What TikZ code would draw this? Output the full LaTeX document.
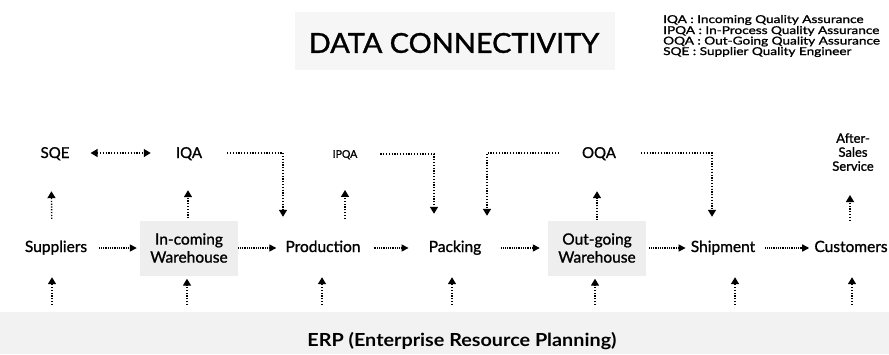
\documentclass[tikz,border=0pt]{standalone}
\usepackage{fontspec}
\setmainfont{Lato}
\newfontfamily\medfont{Lato}[FakeBold=1.2]
\usetikzlibrary{arrows.meta}
\begin{document}
\begin{tikzpicture}[x=1pt,y=-1pt,
  lbl/.style={inner sep=2pt, text height=11pt, text depth=3pt, font=\medfont\fontsize{15.5}{16}\selectfont},
  whbox/.style={inner sep=2pt, fill=gray!13, minimum width=98pt, minimum height=55pt, align=center, font=\medfont\fontsize{15.5}{18}\selectfont},
  toplbl/.style={inner sep=2pt, text height=10pt, text depth=0pt, font=\medfont\fontsize{15}{16}\selectfont},
  leg/.style={anchor=base west, inner sep=0pt, font=\medfont\fontsize{10.8}{12}\selectfont},
  harr/.style={line width=1.4pt, dash pattern=on 1pt off 0.8pt, -{Triangle[length=7pt,width=7pt]}},
  darr/.style={line width=1.4pt, dash pattern=on 1.2pt off 1.6pt, -{Triangle[length=7pt,width=8pt]}},
]
\useasboundingbox (0,0) rectangle (889,354);
% title band
\fill[gray!7] (295,12) rectangle (615,70);
\node[inner sep=0pt, font=\medfont\fontsize{27.5}{30}\selectfont] (title) at (454,43) {\scalebox{1.05}[1]{DATA CONNECTIVITY}};
% legend
\node[leg] (leg1) at (663,23) {\scalebox{1.26}[1]{IQA : Incoming Quality Assurance}};
\node[leg] (leg2) at (663,34) {\scalebox{1.26}[1]{IPQA : In-Process Quality Assurance}};
\node[leg] (leg3) at (663,44.5) {\scalebox{1.26}[1]{OQA : Out-Going Quality Assurance}};
\node[leg] (leg4) at (663,55) {\scalebox{1.26}[1]{SQE : Supplier Quality Engineer}};
% ERP band
\node[fill=gray!10, minimum width=889pt, minimum height=42pt, inner sep=0pt, anchor=north west] (erp) at (0,312) {};
\node[inner sep=0pt, font=\bfseries\fontsize{18}{20}\selectfont] (erpt) at (462,341) {\scalebox{1.1}[1]{ERP (Enterprise Resource Planning)}};
% main row
\node[lbl] (sup) at (56,248) {Suppliers};
\node[whbox] (inw) at (189,248) {In-coming\\Warehouse};
\node[lbl] (prod) at (323,248) {Production};
\node[lbl] (pack) at (455,248) {Packing};
\node[whbox] (outw) at (597,248) {Out-going\\Warehouse};
\node[lbl] (ship) at (723,248) {Shipment};
\node[lbl] (cust) at (851,248) {Customers};
% top row
\node[toplbl] (sqe) at (55,153) {SQE};
\node[toplbl] (iqa) at (189,153) {IQA};
\node[toplbl, text height=7.5pt, font=\medfont\fontsize{10.5}{10}\selectfont] (ipqa) at (345,154) {IPQA};
\node[toplbl] (oqa) at (599,153) {OQA};
\node[inner sep=2pt, anchor=south, align=center, text depth=0pt, font=\medfont\fontsize{13}{14}\selectfont] (as) at (853,173) {After-\\Sales\\Service};
% horizontal flow
\draw[harr, shorten <=10pt, shorten >=3pt] (sup) -- (inw);
\draw[harr, shorten >=7pt] (inw) -- (prod);
\draw[harr, shorten <=11pt, shorten >=18pt] (prod) -- (pack);
\draw[harr, shorten <=18pt, shorten >=8pt] (pack) -- (outw);
\draw[harr, shorten <=3pt, shorten >=3pt] (outw) -- (ship);
\draw[harr, shorten <=8pt, shorten >=3pt] (ship) -- (cust);
% up to QA
\draw[darr, shorten <=20pt, shorten >=31pt] ([xshift=-4pt]sup.north) -- ([xshift=-4pt]sqe.south);
\draw[darr, shorten <=2pt, shorten >=30pt] ([xshift=-1pt]inw.north) -- ([xshift=-1pt]iqa.south);
\draw[darr, shorten <=20pt, shorten >=30pt] (ipqa.south |- prod.north) -- (ipqa.south);
\draw[darr, shorten <=0pt, shorten >=31pt] (outw.north) -- (outw.north |- oqa.south);
\draw[darr, shorten <=18pt, shorten >=22pt] ([xshift=-1pt]cust.north) -- ([xshift=-1pt]cust.north |- as.south);
\draw[darr, {Triangle[length=7pt,width=8pt]}-{Triangle[length=7pt,width=8pt]}, shorten <=19pt, shorten >=23pt] (sqe) -- (iqa);
% elbows
\draw[darr, shorten <=23pt, shorten >=22pt] (iqa.east) -| ([xshift=-40pt]prod.north);
\draw[darr, shorten <=21pt, shorten >=25pt] (ipqa.east) -| ([xshift=-21pt]pack.north);
\draw[darr, shorten <=21pt, shorten >=23pt] (oqa.west) -| ([xshift=32pt]pack.north);
\draw[darr, shorten <=23pt, shorten >=22pt] (oqa.east) -| ([xshift=-11pt]ship.north);
% up from ERP
\draw[darr, shorten <=7pt, shorten >=20pt] ([xshift=-4pt]sup.south |- erp.north) -- ([xshift=-4pt]sup.south);
\draw[darr, shorten <=7pt, shorten >=3pt] ([xshift=-2pt]inw.south |- erp.north) -- ([xshift=-2pt]inw.south);
\draw[darr, shorten <=7pt, shorten >=20pt] ([xshift=-1pt]prod.south |- erp.north) -- ([xshift=-1pt]prod.south);
\draw[darr, shorten <=7pt, shorten >=20pt] ([xshift=-3pt]pack.south |- erp.north) -- ([xshift=-3pt]pack.south);
\draw[darr, shorten <=7pt, shorten >=3pt] ([xshift=-2pt]outw.south |- erp.north) -- ([xshift=-2pt]outw.south);
\draw[darr, shorten <=7pt, shorten >=20pt] ([xshift=12pt]ship.south |- erp.north) -- ([xshift=12pt]ship.south);
\draw[darr, shorten <=7pt, shorten >=20pt] ([xshift=1pt]cust.south |- erp.north) -- ([xshift=1pt]cust.south);
\end{tikzpicture}
\end{document}
